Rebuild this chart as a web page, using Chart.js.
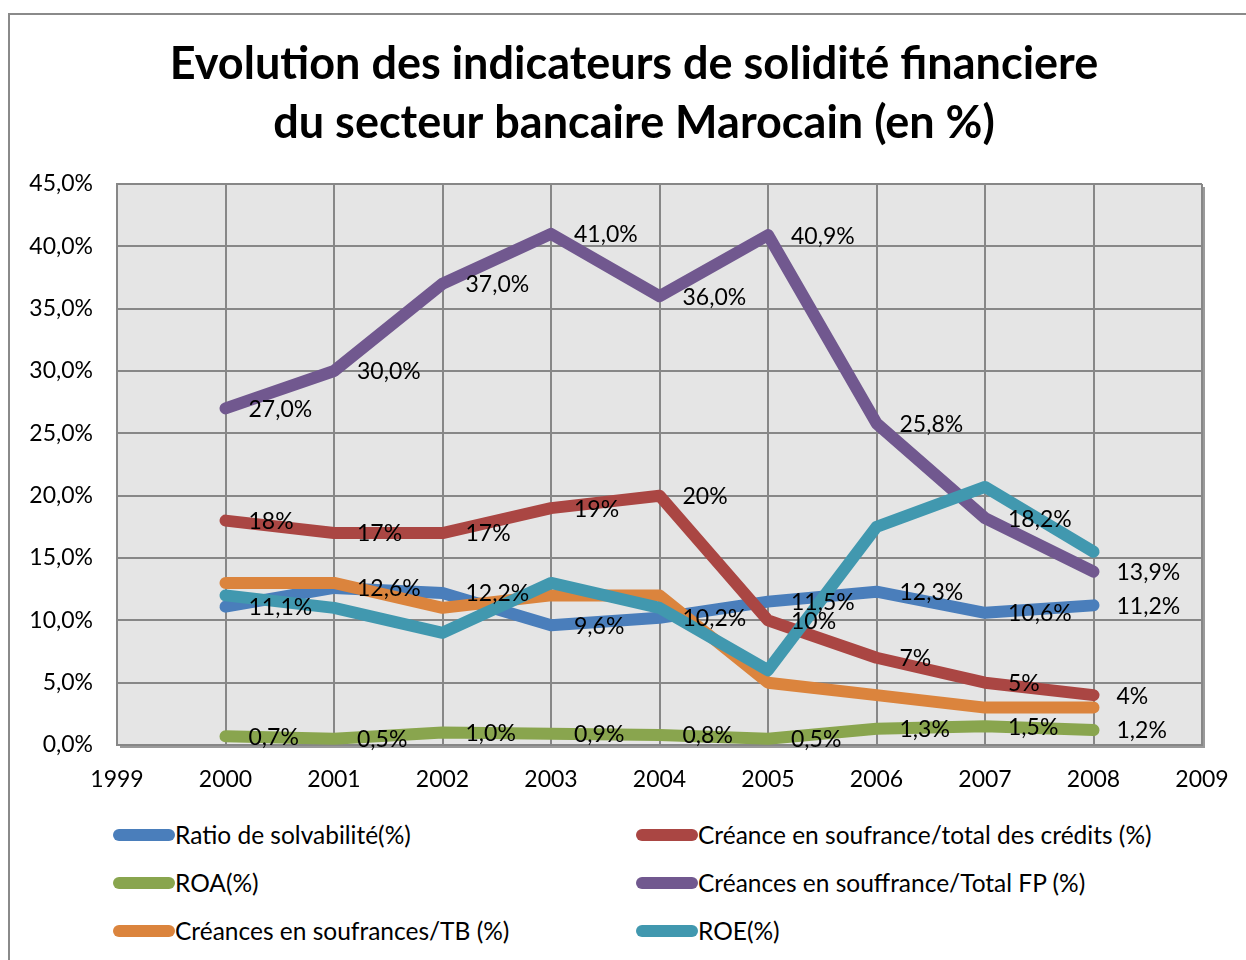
<!DOCTYPE html>
<html><head><meta charset="utf-8">
<script src="https://cdn.jsdelivr.net/npm/chart.js@4.4.0/dist/chart.umd.min.js"></script>
<style>
html,body{margin:0;padding:0;background:#fff;width:1246px;height:960px;overflow:hidden;font-family:Lato,sans-serif;}
#frame{position:absolute;left:8px;top:13px;width:1260px;height:990px;border:2px solid #8a8a8a;box-sizing:border-box;}
#wrap{position:absolute;left:0;top:0;width:1246px;height:800px;}
.item{position:absolute;display:flex;align-items:center;font-size:24.5px;line-height:26px;color:#000;white-space:nowrap;transform:translateY(-50%);}
.sw{width:62px;height:12px;border-radius:6px;}
</style></head>
<body>
<div id="frame"></div>
<div id="wrap"><canvas id="c"></canvas></div>
<div id="legend"></div>
<script>
const years = [2000, 2001, 2002, 2003, 2004, 2005, 2006, 2007, 2008];
const seriesNames = [
  'Ratio de solvabilité(%)',
  'Créance en soufrance/total des crédits (%)',
  'ROA(%)',
  'Créances en souffrance/Total FP (%)',
  'Créances en soufrances/TB (%)',
  'ROE(%)'
];
const ratioSolvabilite = [11.1, 12.6, 12.2, 9.6, 10.2, 11.5, 12.3, 10.6, 11.2];
const creanceTotalCredits = [18, 17, 17, 19, 20, 10, 7, 5, 4];
const roa = [0.7, 0.5, 1.0, 0.9, 0.8, 0.5, 1.3, 1.5, 1.2];
const creancesTotalFP = [27.0, 30.0, 37.0, 41.0, 36.0, 40.9, 25.8, 18.2, 13.9];
const creancesTB = [13, 13, 11, 12, 12, 5, 4, 3, 3];
const roe = [12, 11, 9, 13, 11, 6, 17.5, 20.7, 15.5];
const labelDecimals = [1, 0, 1, 1, null, null];
const titleLines = ['Evolution des indicateurs de solidité financiere', 'du secteur bancaire Marocain (en %)'];

const colors = ['#4a7ebb', '#aa4643', '#89a54e', '#71588f', '#db843d', '#4198af'];
const allValues = [ratioSolvabilite, creanceTotalCredits, roa, creancesTotalFP, creancesTB, roe];

const datasets = allValues.map((vals, i) => ({
  label: seriesNames[i],
  data: years.map((y, k) => ({x: y, y: vals[k]})),
  borderColor: colors[i],
  backgroundColor: colors[i],
  borderWidth: 12,
  borderCapStyle: 'round',
  borderJoinStyle: 'round',
  pointRadius: 0,
  tension: 0,
  order: 6 - i,
  decimals: labelDecimals[i]
}));

const fmt = (v, d) => v.toFixed(d).replace('.', ',') + '%';

const bgPlugin = {
  id: 'bg',
  beforeDraw(chart) {
    const {ctx, chartArea: a} = chart;
    ctx.save();
    ctx.fillStyle = '#e5e5e5';
    ctx.fillRect(a.left, a.top, a.right - a.left, a.bottom - a.top);
    ctx.strokeStyle = '#9a9a9a';
    ctx.lineWidth = 2;
    ctx.beginPath();
    ctx.moveTo(a.right + 2, a.top + 3);
    ctx.lineTo(a.right + 2, a.bottom + 2);
    ctx.lineTo(a.left + 3, a.bottom + 2);
    ctx.stroke();
    ctx.restore();
  }
};
const titlePlugin = {
  id: 'ttl',
  afterDraw(chart) {
    const ctx = chart.ctx;
    ctx.save();
    ctx.font = 'bold 45px Lato';
    ctx.fillStyle = '#000';
    ctx.textAlign = 'center';
    ctx.textBaseline = 'middle';
    titleLines.forEach((t, i) => ctx.fillText(t, 634, 64.5 + i * 59));
    ctx.restore();
  }
};
const labelPlugin = {
  id: 'lbl',
  afterDatasetsDraw(chart) {
    const ctx = chart.ctx;
    ctx.save();
    ctx.font = '23px Lato';
    ctx.fillStyle = '#000';
    ctx.textBaseline = 'middle';
    ctx.textAlign = 'left';
    chart.data.datasets.forEach((ds, i) => {
      if (ds.decimals === null) return;
      const meta = chart.getDatasetMeta(i);
      meta.data.forEach((pt, k) => {
        ctx.fillText(fmt(allValues[i][k], ds.decimals), pt.x + 23, pt.y + 1);
      });
    });
    ctx.restore();
  }
};

new Chart(document.getElementById('c'), {
  type: 'line',
  data: {datasets},
  plugins: [bgPlugin, labelPlugin, titlePlugin],
  options: {
    responsive: true,
    maintainAspectRatio: false,
    animation: false,
    layout: {padding: {left: 20, right: 44, top: 184, bottom: 5}},
    plugins: {
      legend: {display: false},
      tooltip: {enabled: false},
      title: {display: false}
    },
    scales: {
      x: {
        type: 'linear', min: 1999, max: 2009,
        afterFit(s) { s.height = 50; s.paddingRight = 0; s.paddingLeft = 0; },
        ticks: {stepSize: 1, callback: v => String(v), color: '#000', font: {family: 'Lato', size: 23}, padding: 21, maxRotation: 0},
        grid: {color: '#878787', lineWidth: 2, drawTicks: false},
        border: {color: '#878787', width: 2}
      },
      y: {
        min: 0, max: 45,
        afterFit(s) { s.width = 97; },
        ticks: {stepSize: 5, callback: v => fmt(v, 1), color: '#000', font: {family: 'Lato', size: 23}, padding: 24},
        grid: {color: '#878787', lineWidth: 2, drawTicks: false},
        border: {color: '#878787', width: 2}
      }
    }
  }
});

const legend = document.getElementById('legend');
const legPos = [[113, 835], [636, 835], [113, 883], [636, 883], [113, 931], [636, 931]];
seriesNames.forEach((n, i) => {
  const d = document.createElement('div');
  d.className = 'item';
  d.style.left = legPos[i][0] + 'px';
  d.style.top = legPos[i][1] + 'px';
  d.innerHTML = '<span class="sw" style="background:' + colors[i] + '"></span><span>' + n + '</span>';
  legend.appendChild(d);
});
</script>
</body></html>
